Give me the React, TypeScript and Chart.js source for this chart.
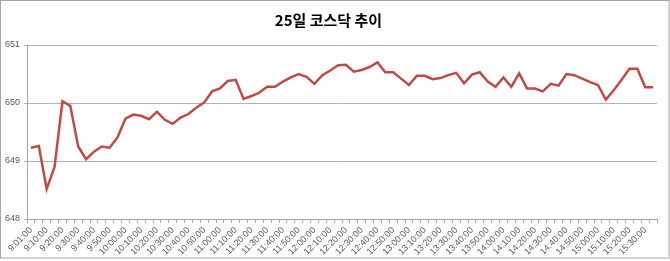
import React, { useEffect, useRef } from 'react';
import { Chart, registerables } from 'chart.js';

Chart.register(...registerables);

const titleText = '25일 코스닥 추이';

const categories = [
  '9:01:00', '9:05:00', '9:10:00', '9:15:00', '9:20:00', '9:25:00', '9:30:00', '9:35:00', '9:40:00', '9:45:00', '9:50:00', '9:55:00',
  '10:00:00', '10:05:00', '10:10:00', '10:15:00', '10:20:00', '10:25:00', '10:30:00', '10:35:00', '10:40:00', '10:45:00', '10:50:00', '10:55:00',
  '11:00:00', '11:05:00', '11:10:00', '11:15:00', '11:20:00', '11:25:00', '11:30:00', '11:35:00', '11:40:00', '11:45:00', '11:50:00', '11:55:00',
  '12:00:00', '12:05:00', '12:10:00', '12:15:00', '12:20:00', '12:25:00', '12:30:00', '12:35:00', '12:40:00', '12:45:00', '12:50:00', '12:55:00',
  '13:00:00', '13:05:00', '13:10:00', '13:15:00', '13:20:00', '13:25:00', '13:30:00', '13:35:00', '13:40:00', '13:45:00', '13:50:00', '13:55:00',
  '14:00:00', '14:05:00', '14:10:00', '14:15:00', '14:20:00', '14:25:00', '14:30:00', '14:35:00', '14:40:00', '14:45:00', '14:50:00', '14:55:00',
  '15:00:00', '15:05:00', '15:10:00', '15:15:00', '15:20:00', '15:25:00', '15:30:00', '15:35:00',
];

const kosdaqValues = [
  649.23, 649.26, 648.52, 648.90, 650.03, 649.95, 649.25, 649.03, 649.16, 649.25, 649.23, 649.41,
  649.73, 649.80, 649.78, 649.72, 649.85, 649.71, 649.64, 649.75, 649.81, 649.92, 650.01, 650.20,
  650.25, 650.38, 650.40, 650.07, 650.12, 650.18, 650.28, 650.28, 650.37, 650.44, 650.50, 650.45,
  650.33, 650.48, 650.56, 650.65, 650.66, 650.54, 650.57, 650.62, 650.70, 650.53, 650.53, 650.42,
  650.31, 650.47, 650.47, 650.41, 650.43, 650.48, 650.52, 650.34, 650.49, 650.53, 650.37, 650.28,
  650.44, 650.28, 650.51, 650.25, 650.25, 650.20, 650.33, 650.30, 650.50, 650.48, 650.42, 650.36,
  650.31, 650.06, 650.22, 650.40, 650.59, 650.59, 650.27, 650.27,
];

const yTicks = [648, 649, 650, 651];

const tickFont = { family: "'Liberation Sans', 'Noto Sans', sans-serif", size: 9 };

const framePlugin = {
  id: 'frame',
  beforeDraw(chart: any) {
    const ctx = chart.ctx;
    ctx.save();
    ctx.fillStyle = '#ffffff';
    ctx.fillRect(0, 0, chart.width, chart.height);
    ctx.restore();
  },
  afterDraw(chart: any) {
    const ctx = chart.ctx;
    ctx.save();
    ctx.strokeStyle = '#a6a6a6';
    ctx.lineWidth = 1;
    ctx.strokeRect(0.5, 0.5, 668.5, 257.5);
    ctx.restore();
  },
};

export default function App() {
  const ref = useRef<HTMLCanvasElement>(null);
  useEffect(() => {
    document.body.style.margin = '0';
    const chart = new Chart(ref.current as HTMLCanvasElement, {
      type: 'line',
      data: {
        labels: categories,
        datasets: [
          {
            data: kosdaqValues,
            borderColor: '#be4b48',
            borderWidth: 2.5,
            pointRadius: 0,
            tension: 0,
            fill: false,
          },
        ],
      },
      options: {
        animation: false,
        responsive: false,
        maintainAspectRatio: false,
        layout: { padding: { top: 0, right: 13, left: 0, bottom: 0 } },
        plugins: {
          legend: { display: false },
          tooltip: { enabled: false },
          title: {
            display: true,
            text: titleText,
            color: '#000000',
            font: { family: "'Noto Sans CJK KR', sans-serif", size: 15, weight: 'bold' },
            padding: { top: 11, bottom: 16 },
          },
        },
        scales: {
          x: {
            type: 'category',
            offset: true,
            grid: { offset: true, drawOnChartArea: false, drawTicks: true, tickLength: 4, color: '#a6a6a6' },
            border: { color: '#a6a6a6' },
            ticks: {
              autoSkip: false,
              minRotation: 45,
              maxRotation: 45,
              padding: 2,
              color: '#595959',
              font: tickFont,
              callback: (_v: any, i: number) => (i % 2 === 0 ? categories[i] : ''),
            },
            afterFit: (s: any) => {
              s.height = 42;
            },
          },
          y: {
            min: 648,
            max: 651,
            grid: { color: '#b3b3b3', tickLength: 3 },
            border: { color: '#a6a6a6' },
            ticks: { stepSize: 1, padding: 4, color: '#595959', font: tickFont },
            afterBuildTicks: (s: any) => {
              s.ticks = yTicks.map((v) => ({ value: v }));
            },
            afterFit: (s: any) => {
              s.width = 27;
            },
          },
        },
      },
      plugins: [framePlugin],
    } as any);
    return () => chart.destroy();
  }, []);
  return <canvas ref={ref} width={670} height={261} style={{ display: 'block' }} />;
}
